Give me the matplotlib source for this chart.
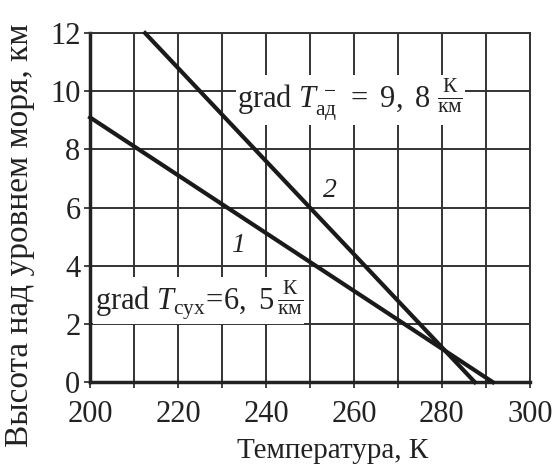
import numpy as np
import matplotlib
matplotlib.use('Agg')
import matplotlib.pyplot as plt
from matplotlib.ticker import MultipleLocator

plt.rcParams['font.family'] = ['Liberation Serif', 'DejaVu Serif']
plt.rcParams['mathtext.fontset'] = 'custom'
plt.rcParams['mathtext.rm'] = 'Liberation Serif'
plt.rcParams['mathtext.it'] = 'Liberation Serif:italic'

# line 1 and line 2 (temperature, K vs height, km)
line1_T = [200, 291.6]
line1_h = [9.1, 0]
line2_T = [212.5, 287.5]
line2_h = [12, 0]

x_ticks = [200, 220, 240, 260, 280, 300]
y_ticks = [0, 2, 4, 6, 8, 10, 12]

fig = plt.figure(figsize=(5.53, 4.73), dpi=100)
ax = fig.add_axes([0.163, 0.192, 0.795, 0.738])

ax.set_xlim(200, 300)
ax.set_ylim(0, 12)
ax.set_xticks(x_ticks)
ax.set_yticks(y_ticks)
ax.xaxis.set_minor_locator(MultipleLocator(10))
ax.tick_params(axis='both', which='both', direction='out', length=4, width=1.2,
               labelsize=22, colors='#222222')
ax.tick_params(axis='x', which='major', pad=9)
ax.tick_params(axis='y', which='major', pad=3)
ax.grid(True, which='both', color='#333333', linewidth=1.4, zorder=1)
ax.set_axisbelow(True)

for side in ['top', 'right']:
    ax.spines[side].set_linewidth(1.4)
    ax.spines[side].set_color('#333333')
for side in ['left', 'bottom']:
    ax.spines[side].set_linewidth(2.5)
    ax.spines[side].set_color('#222222')

ax.plot(line1_T, line1_h, color='#1a1a1a', linewidth=3, zorder=4, clip_on=False)
ax.plot(line2_T, line2_h, color='#1a1a1a', linewidth=3, zorder=4, clip_on=False)

box = dict(facecolor='white', edgecolor='none', pad=1)
ax.text(233.5, 9.7,
        r'$\mathrm{grad}\ \mathit{T}_{\mathrm{ад}}^{\,-}\ =\ 9,\ 8\ \frac{\mathrm{К}}{\mathrm{км}}$',
        fontsize=22, va='center', ha='left', color='#222222', bbox=box, zorder=3)
ax.text(201.0, 2.8,
        r'$\mathrm{grad}\ \mathit{T}_{\mathrm{сух}}\!=\!6,\ 5\,\frac{\mathrm{К}}{\mathrm{км}}$',
        fontsize=22, va='center', ha='left', color='#222222', bbox=box, zorder=3)
ax.text(233.6, 4.7, '1', fontsize=20, style='italic', ha='center', va='center',
        color='#222222', zorder=3)
ax.text(254.5, 6.6, '2', fontsize=20, style='italic', ha='center', va='center',
        color='#222222', zorder=3)

ax.set_xlabel('Температура, К', fontsize=21, color='#222222')
ax.xaxis.set_label_coords(0.552, -0.16)
ax.set_ylabel('Высота над уровнем моря, км', fontsize=24, color='#222222')
ax.yaxis.set_label_coords(-0.125, 0.42)

plt.savefig('out.png', dpi=100)
